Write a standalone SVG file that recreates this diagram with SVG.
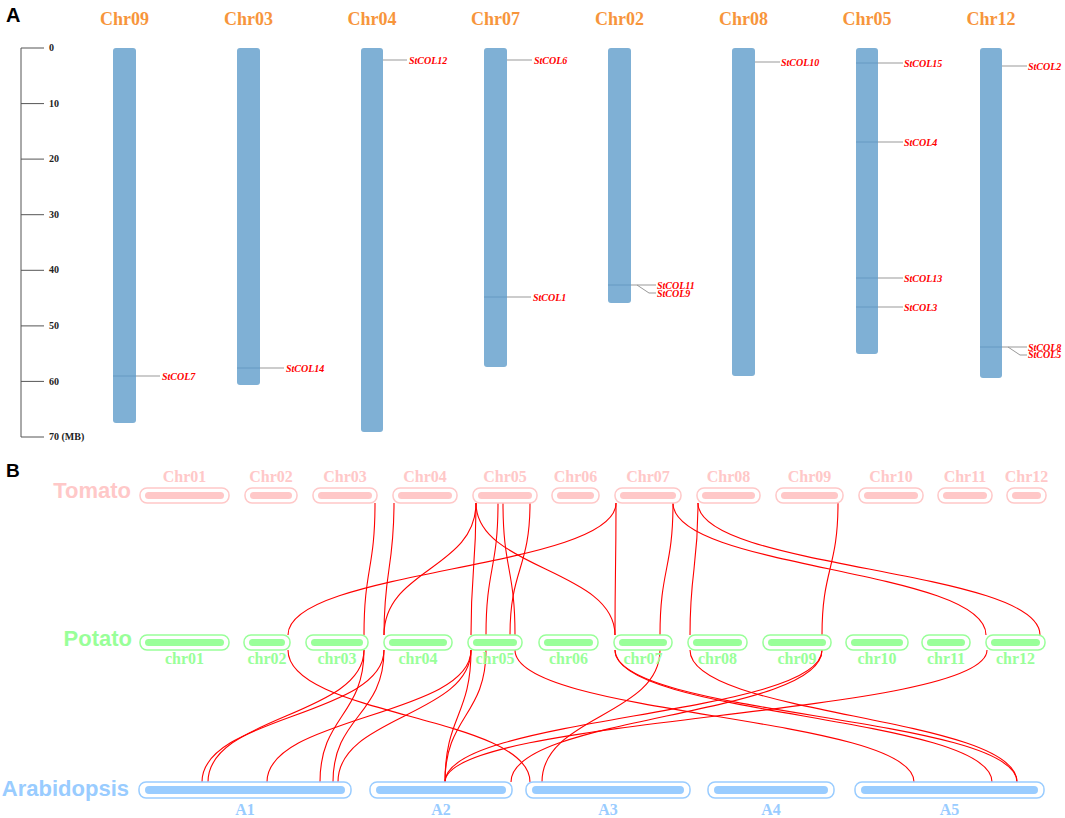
<svg xmlns="http://www.w3.org/2000/svg" width="1065" height="818" viewBox="0 0 1065 818">
<style>
.panel{font-family:"Liberation Sans",Arial,sans-serif;font-weight:bold;fill:#000}
.chrA{fill:#7FB0D5}
.band{stroke:#5F94BE;stroke-width:0.8}
.lblA{font-family:"Liberation Serif","Times New Roman",serif;font-weight:bold;font-size:18px;fill:#F7953B;text-anchor:middle}
.tick{font-family:"Liberation Serif","Times New Roman",serif;font-weight:bold;font-size:10px;fill:#222}
.gene{font-family:"Liberation Serif","Times New Roman",serif;font-weight:bold;font-style:italic;font-size:10px;fill:#FF0000}
.lead{stroke:#999;stroke-width:1;fill:none}
.axis{stroke:#555;stroke-width:1;fill:none}
.sp{font-family:"Liberation Sans",Arial,sans-serif;font-weight:bold;font-size:22px;text-anchor:end}
.cl{font-family:"Liberation Serif","Times New Roman",serif;font-weight:bold;font-size:16px;text-anchor:middle}
.tOut{fill:#fff;stroke:#FFC8C8;stroke-width:1.5}
.tIn{fill:#FFC8C8}
.pOut{fill:#fff;stroke:#99FF99;stroke-width:1.5}
.pIn{fill:#99FF99}
.aOut{fill:#fff;stroke:#99CCFF;stroke-width:1.5}
.aIn{fill:#99CCFF}
.link{fill:none;stroke:#FF0000;stroke-width:1.1}
</style>
<text class="panel" x="6" y="22" font-size="20">A</text>
<text class="panel" x="6" y="477" font-size="19">B</text>
<g id="axis">
<path class="axis" d="M44 48H21V437H44M21 103.6H44M21 159.1H44M21 214.7H44M21 270.3H44M21 325.9H44M21 381.4H44"/>
<text class="tick" x="49" y="51">0</text>
<text class="tick" x="49" y="107">10</text>
<text class="tick" x="49" y="162">20</text>
<text class="tick" x="49" y="218">30</text>
<text class="tick" x="49" y="273">40</text>
<text class="tick" x="49" y="329">50</text>
<text class="tick" x="49" y="385">60</text>
<text class="tick" x="49" y="440">70 (MB)</text>
</g>
<g id="A-Chr09"><text class="lblA" x="124.5" y="25">Chr09</text><rect class="chrA" x="113" y="48" width="23" height="375" rx="3"/>
<line class="band" x1="113" y1="376" x2="136" y2="376"/><path class="lead" d="M136 376H160"/><text class="gene" x="162" y="379.5">StCOL7</text></g>
<g id="A-Chr03"><text class="lblA" x="248.5" y="25">Chr03</text><rect class="chrA" x="237" y="48" width="23" height="337" rx="3"/>
<line class="band" x1="237" y1="368" x2="260" y2="368"/><path class="lead" d="M260 368H284"/><text class="gene" x="286" y="371.5">StCOL14</text></g>
<g id="A-Chr04"><text class="lblA" x="372" y="25">Chr04</text><rect class="chrA" x="361" y="48" width="22" height="384" rx="3"/>
<path class="lead" d="M383 60H407"/><text class="gene" x="409" y="63.5">StCOL12</text></g>
<g id="A-Chr07"><text class="lblA" x="495.5" y="25">Chr07</text><rect class="chrA" x="484" y="48" width="23" height="319" rx="3"/>
<line class="band" x1="484" y1="297" x2="507" y2="297"/><path class="lead" d="M507 60H532M507 297H531"/><text class="gene" x="534" y="63.5">StCOL6</text><text class="gene" x="533" y="300.5">StCOL1</text></g>
<g id="A-Chr02"><text class="lblA" x="619.5" y="25">Chr02</text><rect class="chrA" x="608" y="48" width="23" height="255" rx="3"/>
<line class="band" x1="608" y1="285" x2="631" y2="285"/><path class="lead" d="M631 285H656M637 285L649 293H656"/><text class="gene" x="657" y="288.5">StCOL11</text><text class="gene" x="657" y="296.5">StCOL9</text></g>
<g id="A-Chr08"><text class="lblA" x="743.5" y="25">Chr08</text><rect class="chrA" x="732" y="48" width="23" height="328" rx="3"/>
<path class="lead" d="M755 62H780"/><text class="gene" x="781" y="65.5">StCOL10</text></g>
<g id="A-Chr05"><text class="lblA" x="867" y="25">Chr05</text><rect class="chrA" x="856" y="48" width="22" height="306" rx="3"/>
<line class="band" x1="856" y1="63" x2="878" y2="63"/><line class="band" x1="856" y1="142" x2="878" y2="142"/><line class="band" x1="856" y1="278" x2="878" y2="278"/><line class="band" x1="856" y1="307" x2="878" y2="307"/>
<path class="lead" d="M878 63H903M878 142H903M878 278H903M878 307H903"/>
<text class="gene" x="904" y="66.5">StCOL15</text><text class="gene" x="904" y="145.5">StCOL4</text><text class="gene" x="904" y="281.5">StCOL13</text><text class="gene" x="904" y="310.5">StCOL3</text></g>
<g id="A-Chr12"><text class="lblA" x="991" y="25">Chr12</text><rect class="chrA" x="980" y="48" width="22" height="330" rx="3"/>
<line class="band" x1="980" y1="347" x2="1002" y2="347"/>
<path class="lead" d="M1002 66H1027M1002 347H1027M1008 347L1020 355H1027"/>
<text class="gene" x="1028" y="69.5">StCOL2</text><text class="gene" x="1028" y="350.5">StCOL8</text><text class="gene" x="1028" y="358">StCOL5</text></g>

<g id="links">
<path class="link" d="M375 503C375 569 364 569 364 635"/>
<path class="link" d="M394 503C394 569 384 569 384 635"/>
<path class="link" d="M476 503C476 569 384 569 384 635"/>
<path class="link" d="M476 503C476 569 471 569 471 635"/>
<path class="link" d="M476 503C476 569 615 569 615 635"/>
<path class="link" d="M498 503C498 569 486 569 486 635"/>
<path class="link" d="M503 503C503 569 515 569 515 635"/>
<path class="link" d="M530 503C530 569 510 569 510 635"/>
<path class="link" d="M616 503C616 569 288 569 288 635"/>
<path class="link" d="M616 503C616 569 615 569 615 635"/>
<path class="link" d="M673 503C673 569 986 569 986 635"/>
<path class="link" d="M673 503C673 569 660 569 660 635"/>
<path class="link" d="M698 503C698 569 690 569 690 635"/>
<path class="link" d="M698 503C698 569 1040 569 1040 635"/>
<path class="link" d="M838 503C838 569 822 569 822 635"/>
<path class="link" d="M288 650C288 716 530 716 530 782"/>
<path class="link" d="M364 650C364 716 320 716 320 782"/>
<path class="link" d="M364 650C364 716 208 716 208 782"/>
<path class="link" d="M384 650C384 716 333 716 333 782"/>
<path class="link" d="M384 650C384 716 202 716 202 782"/>
<path class="link" d="M471 650C471 716 267 716 267 782"/>
<path class="link" d="M471 650C471 716 338 716 338 782"/>
<path class="link" d="M471 650C471 716 445 716 445 782"/>
<path class="link" d="M486 650C486 716 445 716 445 782"/>
<path class="link" d="M515 650C515 716 914 716 914 782"/>
<path class="link" d="M615 650C615 716 992 716 992 782"/>
<path class="link" d="M615 650C615 716 1017 716 1017 782"/>
<path class="link" d="M660 650C660 716 542 716 542 782"/>
<path class="link" d="M690 650C690 716 1017 716 1017 782"/>
<path class="link" d="M822 650C822 716 445 716 445 782"/>
<path class="link" d="M822 650C822 716 511 716 511 782"/>
<path class="link" d="M987 650C987 716 445 716 445 782"/>
</g>

<g id="tomato">
<text class="sp" x="131" y="498" fill="#FFC8C8">Tomato</text>
<g id="T-Chr01"><rect class="tOut" x="140" y="488" width="89" height="15" rx="7"/><rect class="tIn" x="145" y="492" width="79" height="7" rx="3.5"/><text class="cl" x="184.5" y="482" fill="#FFC8C8">Chr01</text></g>
<g id="T-Chr02"><rect class="tOut" x="245" y="488" width="52" height="15" rx="7"/><rect class="tIn" x="250" y="492" width="42" height="7" rx="3.5"/><text class="cl" x="271" y="482" fill="#FFC8C8">Chr02</text></g>
<g id="T-Chr03"><rect class="tOut" x="313" y="488" width="64" height="15" rx="7"/><rect class="tIn" x="318" y="492" width="54" height="7" rx="3.5"/><text class="cl" x="345" y="482" fill="#FFC8C8">Chr03</text></g>
<g id="T-Chr04"><rect class="tOut" x="393" y="488" width="64" height="15" rx="7"/><rect class="tIn" x="398" y="492" width="54" height="7" rx="3.5"/><text class="cl" x="425" y="482" fill="#FFC8C8">Chr04</text></g>
<g id="T-Chr05"><rect class="tOut" x="473" y="488" width="64" height="15" rx="7"/><rect class="tIn" x="478" y="492" width="54" height="7" rx="3.5"/><text class="cl" x="505" y="482" fill="#FFC8C8">Chr05</text></g>
<g id="T-Chr06"><rect class="tOut" x="552" y="488" width="47" height="15" rx="7"/><rect class="tIn" x="557" y="492" width="37" height="7" rx="3.5"/><text class="cl" x="575.5" y="482" fill="#FFC8C8">Chr06</text></g>
<g id="T-Chr07"><rect class="tOut" x="615" y="488" width="66" height="15" rx="7"/><rect class="tIn" x="620" y="492" width="56" height="7" rx="3.5"/><text class="cl" x="648" y="482" fill="#FFC8C8">Chr07</text></g>
<g id="T-Chr08"><rect class="tOut" x="697" y="488" width="63" height="15" rx="7"/><rect class="tIn" x="702" y="492" width="53" height="7" rx="3.5"/><text class="cl" x="728.5" y="482" fill="#FFC8C8">Chr08</text></g>
<g id="T-Chr09"><rect class="tOut" x="776" y="488" width="67" height="15" rx="7"/><rect class="tIn" x="781" y="492" width="57" height="7" rx="3.5"/><text class="cl" x="809.5" y="482" fill="#FFC8C8">Chr09</text></g>
<g id="T-Chr10"><rect class="tOut" x="859" y="488" width="64" height="15" rx="7"/><rect class="tIn" x="864" y="492" width="54" height="7" rx="3.5"/><text class="cl" x="891" y="482" fill="#FFC8C8">Chr10</text></g>
<g id="T-Chr11"><rect class="tOut" x="938" y="488" width="54" height="15" rx="7"/><rect class="tIn" x="943" y="492" width="44" height="7" rx="3.5"/><text class="cl" x="965" y="482" fill="#FFC8C8">Chr11</text></g>
<g id="T-Chr12"><rect class="tOut" x="1007" y="488" width="39" height="15" rx="7"/><rect class="tIn" x="1012" y="492" width="29" height="7" rx="3.5"/><text class="cl" x="1026.5" y="482" fill="#FFC8C8">Chr12</text></g>
</g>

<g id="potato">
<text class="sp" x="132" y="646" fill="#99FF99">Potato</text>
<g id="P-chr01"><rect class="pOut" x="140" y="635" width="89" height="15" rx="7"/><rect class="pIn" x="145" y="639" width="79" height="7" rx="3.5"/><text class="cl" x="184.5" y="664" fill="#99FF99">chr01</text></g>
<g id="P-chr02"><rect class="pOut" x="244" y="635" width="46" height="15" rx="7"/><rect class="pIn" x="249" y="639" width="36" height="7" rx="3.5"/><text class="cl" x="267" y="664" fill="#99FF99">chr02</text></g>
<g id="P-chr03"><rect class="pOut" x="306" y="635" width="62" height="15" rx="7"/><rect class="pIn" x="311" y="639" width="52" height="7" rx="3.5"/><text class="cl" x="337" y="664" fill="#99FF99">chr03</text></g>
<g id="P-chr04"><rect class="pOut" x="384" y="635" width="68" height="15" rx="7"/><rect class="pIn" x="389" y="639" width="58" height="7" rx="3.5"/><text class="cl" x="418" y="664" fill="#99FF99">chr04</text></g>
<g id="P-chr05"><rect class="pOut" x="468" y="635" width="54" height="15" rx="7"/><rect class="pIn" x="473" y="639" width="44" height="7" rx="3.5"/><text class="cl" x="495" y="664" fill="#99FF99">chr05</text></g>
<g id="P-chr06"><rect class="pOut" x="539" y="635" width="59" height="15" rx="7"/><rect class="pIn" x="544" y="639" width="49" height="7" rx="3.5"/><text class="cl" x="568.5" y="664" fill="#99FF99">chr06</text></g>
<g id="P-chr07"><rect class="pOut" x="614" y="635" width="58" height="15" rx="7"/><rect class="pIn" x="619" y="639" width="48" height="7" rx="3.5"/><text class="cl" x="643" y="664" fill="#99FF99">chr07</text></g>
<g id="P-chr08"><rect class="pOut" x="688" y="635" width="59" height="15" rx="7"/><rect class="pIn" x="693" y="639" width="49" height="7" rx="3.5"/><text class="cl" x="717.5" y="664" fill="#99FF99">chr08</text></g>
<g id="P-chr09"><rect class="pOut" x="763" y="635" width="68" height="15" rx="7"/><rect class="pIn" x="768" y="639" width="58" height="7" rx="3.5"/><text class="cl" x="797" y="664" fill="#99FF99">chr09</text></g>
<g id="P-chr10"><rect class="pOut" x="846" y="635" width="62" height="15" rx="7"/><rect class="pIn" x="851" y="639" width="52" height="7" rx="3.5"/><text class="cl" x="877" y="664" fill="#99FF99">chr10</text></g>
<g id="P-chr11"><rect class="pOut" x="922" y="635" width="48" height="15" rx="7"/><rect class="pIn" x="927" y="639" width="38" height="7" rx="3.5"/><text class="cl" x="946" y="664" fill="#99FF99">chr11</text></g>
<g id="P-chr12"><rect class="pOut" x="986" y="635" width="59" height="15" rx="7"/><rect class="pIn" x="991" y="639" width="49" height="7" rx="3.5"/><text class="cl" x="1015.5" y="664" fill="#99FF99">chr12</text></g>
</g>

<g id="arabidopsis">
<text class="sp" x="129" y="796" fill="#99CCFF">Arabidopsis</text>
<g id="A1"><rect class="aOut" x="139" y="782" width="212" height="16" rx="7"/><rect class="aIn" x="145" y="786" width="200" height="8" rx="4"/><text class="cl" x="245" y="815" fill="#99CCFF" font-weight="normal">A1</text></g>
<g id="A2"><rect class="aOut" x="370" y="782" width="142" height="16" rx="7"/><rect class="aIn" x="376" y="786" width="130" height="8" rx="4"/><text class="cl" x="441" y="815" fill="#99CCFF" font-weight="normal">A2</text></g>
<g id="A3"><rect class="aOut" x="526" y="782" width="164" height="16" rx="7"/><rect class="aIn" x="532" y="786" width="152" height="8" rx="4"/><text class="cl" x="608" y="815" fill="#99CCFF" font-weight="normal">A3</text></g>
<g id="A4"><rect class="aOut" x="708" y="782" width="126" height="16" rx="7"/><rect class="aIn" x="714" y="786" width="114" height="8" rx="4"/><text class="cl" x="771" y="815" fill="#99CCFF" font-weight="normal">A4</text></g>
<g id="A5"><rect class="aOut" x="855" y="782" width="189" height="16" rx="7"/><rect class="aIn" x="861" y="786" width="177" height="8" rx="4"/><text class="cl" x="949.5" y="815" fill="#99CCFF" font-weight="normal">A5</text></g>
</g>
</svg>
